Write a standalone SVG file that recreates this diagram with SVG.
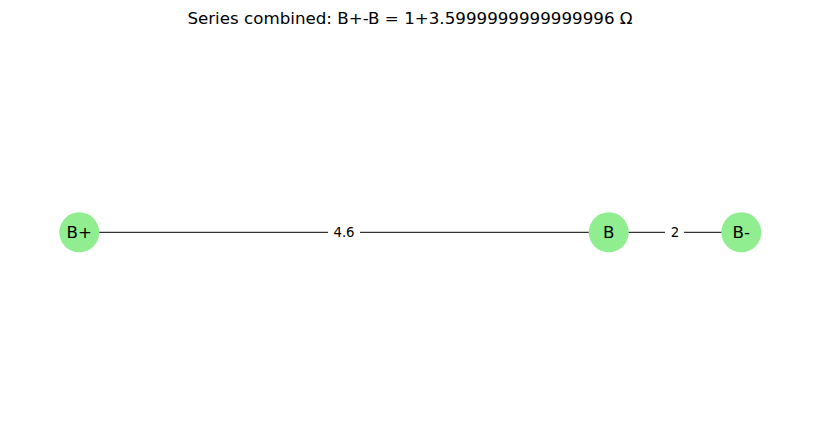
<svg xmlns="http://www.w3.org/2000/svg" width="819" height="442" viewBox="0 0 819 442">
<style>
.node{fill:#90EE90;}
.nl{font-family:"DejaVu Sans",sans-serif;font-size:16.7px;fill:#000;text-anchor:middle;dominant-baseline:central;}
.el{font-family:"DejaVu Sans",sans-serif;font-size:13.3px;fill:#000;text-anchor:middle;dominant-baseline:central;}
.edge{stroke:#000;stroke-width:1.3;stroke-opacity:0.8;}
.title{font-family:"DejaVu Sans",sans-serif;font-size:16.7px;fill:#000;text-anchor:middle;}
</style>
<rect width="819" height="442" fill="#fff"/>
<text class="title" x="410" y="24">Series combined: B+-B = 1+3.5999999999999996 Ω</text>
<g id="connectors">
<line class="edge" x1="79.3" y1="232.3" x2="608.7" y2="232.3"/>
<line class="edge" x1="608.7" y1="232.3" x2="741.3" y2="232.3"/>
<rect x="328" y="222" width="32" height="20" fill="#fff"/>
<text class="el" x="344" y="232.3">4.6</text>
<rect x="665" y="222" width="19" height="20" fill="#fff"/>
<text class="el" x="675" y="232.3">2</text>
</g>
<g id="node-Bplus"><circle class="node" cx="79.3" cy="232.3" r="20"/><text class="nl" x="79.3" y="232.3">B+</text></g>
<g id="node-B"><circle class="node" cx="608.7" cy="232.3" r="20"/><text class="nl" x="608.7" y="232.3">B</text></g>
<g id="node-Bminus"><circle class="node" cx="741.3" cy="232.3" r="20"/><text class="nl" x="741.3" y="232.3">B-</text></g>
</svg>
